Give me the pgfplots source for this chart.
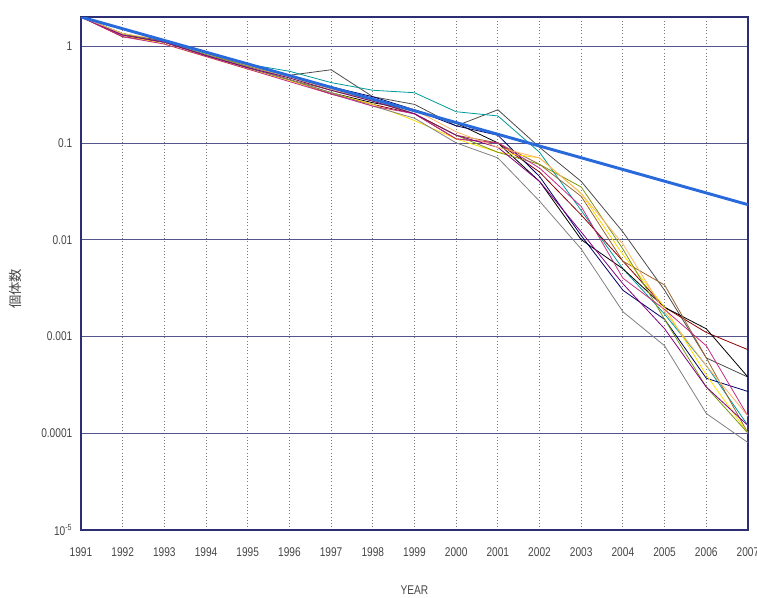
\documentclass[border=0pt]{standalone}
\usepackage{pgfplots}
\pgfplotsset{compat=1.18}
\usepackage{fontspec}
\setmainfont{Liberation Sans}
\newfontfamily\narrow[FakeStretch=0.8]{Liberation Sans}
\newfontfamily\cjk{Noto Sans CJK JP}
\usetikzlibrary{calc}
\definecolor{frame}{RGB}{45,45,115}
\definecolor{hgrid}{RGB}{85,85,140}
\definecolor{vgrid}{RGB}{120,120,120}
\definecolor{bigblue}{RGB}{40,105,220}
\definecolor{labgray}{RGB}{70,70,70}
\begin{document}
\begin{tikzpicture}
\begin{axis}[
  at={(0,0)}, anchor=south west,
  scale only axis,
  width=500.25pt, height=384.75pt,
  xmin=1991, xmax=2007,
  ymode=log, ymin=1e-5, ymax=2,
  xtick={1991,...,2007},
  xticklabels={1991,1992,1993,1994,1995,1996,1997,1998,1999,2000,2001,2002,2003,2004,2005,2006,2007},
  ytick={1e-5,1e-4,1e-3,1e-2,1e-1,1},
  yticklabels={10\textsuperscript{-5},0.0001,0.001,0.01,0.1,1},
  yminorticks=false,
  major tick length=0pt,
  tick label style={font=\narrow\fontsize{9.5}{10}\selectfont, text=labgray},
  xticklabel style={yshift=-10pt},
  yticklabel style={xshift=-3pt},
  axis line style={draw=frame, line width=0.8pt},
  xmajorgrids, ymajorgrids,
  x grid style={dotted, vgrid, line width=0.7pt},
  y grid style={hgrid, line width=0.6pt},
  xlabel={YEAR},
  xlabel style={font=\narrow\fontsize{9.5}{10}\selectfont, text=labgray, at={(axis description cs:0.5,-0.117)}, anchor=center},
  ylabel={\cjk 個体数},
  ylabel style={font=\fontsize{10}{11}\selectfont, text=labgray, at={(axis description cs:-0.099,0.47)}, anchor=center},
  every axis plot/.append style={line width=0.6pt, mark=none},
  clip=true,
]
% thin series
\addplot[color=black!70] coordinates {(1991,2)(1992,1.3)(1993,1.15)(1994,0.85)(1995,0.65)(1996,0.5)(1997,0.57)(1998,0.3)(1999,0.25)(2000,0.15)(2001,0.22)(2002,0.09)(2003,0.04)(2004,0.012)(2005,0.003)(2006,0.0006)(2007,0.00038)};
\addplot[color=teal!80!cyan] coordinates {(1991,2)(1992,1.35)(1993,1.1)(1994,0.85)(1995,0.65)(1996,0.55)(1997,0.42)(1998,0.35)(1999,0.33)(2000,0.21)(2001,0.19)(2002,0.08)(2003,0.02)(2004,0.005)(2005,0.0017)(2006,0.0005)(2007,0.00012)};
\addplot[color=red!55!black] coordinates {(1991,2)(1992,1.25)(1993,1.1)(1994,0.8)(1995,0.6)(1996,0.45)(1997,0.32)(1998,0.25)(1999,0.2)(2000,0.11)(2001,0.1)(2002,0.05)(2003,0.018)(2004,0.006)(2005,0.002)(2006,0.0011)(2007,0.00073)};
\addplot[color=black] coordinates {(1991,2)(1992,1.3)(1993,1.1)(1994,0.8)(1995,0.6)(1996,0.45)(1997,0.33)(1998,0.26)(1999,0.22)(2000,0.16)(2001,0.1)(2002,0.04)(2003,0.01)(2004,0.005)(2005,0.002)(2006,0.0012)(2007,0.00038)};
\addplot[color=blue!40!black] coordinates {(1991,2)(1992,1.3)(1993,1.15)(1994,0.85)(1995,0.62)(1996,0.5)(1997,0.38)(1998,0.3)(1999,0.22)(2000,0.15)(2001,0.12)(2002,0.045)(2003,0.011)(2004,0.003)(2005,0.0015)(2006,0.00037)(2007,0.00027)};
\addplot[color=brown!80!black] coordinates {(1991,2)(1992,1.3)(1993,1.1)(1994,0.8)(1995,0.6)(1996,0.45)(1997,0.35)(1998,0.28)(1999,0.2)(2000,0.12)(2001,0.1)(2002,0.06)(2003,0.028)(2004,0.006)(2005,0.0034)(2006,0.0006)(2007,0.0001)};
\addplot[color=yellow!80!orange] coordinates {(1991,2)(1992,1.3)(1993,1.05)(1994,0.78)(1995,0.58)(1996,0.44)(1997,0.33)(1998,0.25)(1999,0.17)(2000,0.11)(2001,0.08)(2002,0.07)(2003,0.03)(2004,0.007)(2005,0.002)(2006,0.0004)(2007,0.0001)};
\addplot[color=olive!70!green] coordinates {(1991,2)(1992,1.35)(1993,1.1)(1994,0.82)(1995,0.62)(1996,0.47)(1997,0.35)(1998,0.27)(1999,0.2)(2000,0.12)(2001,0.08)(2002,0.06)(2003,0.035)(2004,0.008)(2005,0.0015)(2006,0.0003)(2007,0.0001)};
\addplot[color=gray] coordinates {(1991,2)(1992,1.3)(1993,1.1)(1994,0.8)(1995,0.6)(1996,0.45)(1997,0.33)(1998,0.24)(1999,0.18)(2000,0.1)(2001,0.07)(2002,0.025)(2003,0.008)(2004,0.0018)(2005,0.0008)(2006,0.00016)(2007,0.00008)};
\addplot[color=magenta!80!black] coordinates {(1991,2)(1992,1.25)(1993,1.05)(1994,0.78)(1995,0.58)(1996,0.43)(1997,0.32)(1998,0.24)(1999,0.2)(2000,0.11)(2001,0.1)(2002,0.055)(2003,0.022)(2004,0.004)(2005,0.0019)(2006,0.0008)(2007,0.00015)};
\addplot[color=violet] coordinates {(1991,2)(1992,1.3)(1993,1.1)(1994,0.8)(1995,0.6)(1996,0.47)(1997,0.35)(1998,0.27)(1999,0.2)(2000,0.12)(2001,0.09)(2002,0.04)(2003,0.012)(2004,0.0035)(2005,0.0012)(2006,0.0003)(2007,0.00012)};
\addplot[color=orange!60!white] coordinates {(1991,2)(1992,1.35)(1993,1.15)(1994,0.85)(1995,0.63)(1996,0.48)(1997,0.36)(1998,0.28)(1999,0.22)(2000,0.13)(2001,0.09)(2002,0.07)(2003,0.03)(2004,0.009)(2005,0.0018)(2006,0.0005)(2007,0.00015)};
% thick blue trend
\addplot[color=bigblue, line width=2.2pt] coordinates {(1991,2)(2007,0.023)};
\end{axis}
\pgfresetboundingbox
\path ($(current axis.south west)+(-60.75pt,-50.25pt)$) rectangle ($(current axis.north east)+(6.75pt,12.75pt)$);
\end{tikzpicture}
\end{document}
